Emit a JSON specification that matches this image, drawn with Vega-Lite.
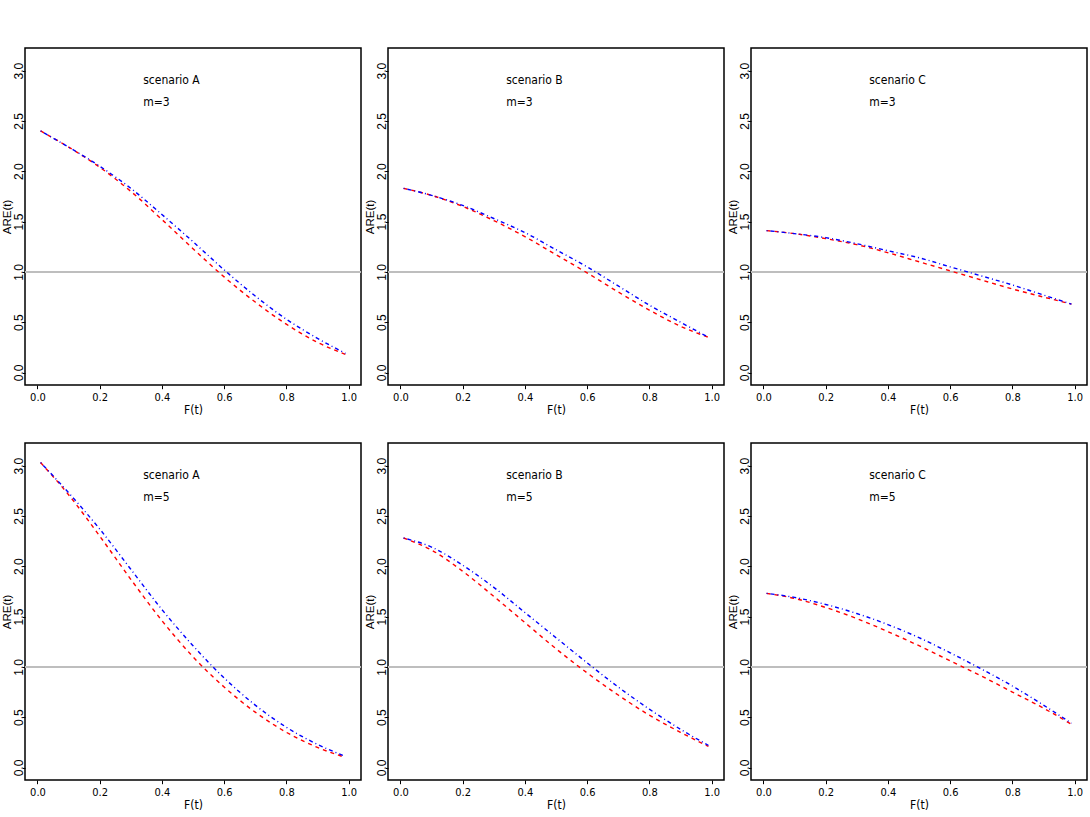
{
  "$schema": "https://vega.github.io/schema/vega-lite/v6.json",
  "padding": {"left": 0, "top": 47, "right": 3, "bottom": 3},
  "background": "white",
  "data": {"values": [
    {"s":"A","m":3,"c":"red","x":0.01,"y":2.40},{"s":"A","m":3,"c":"red","x":0.1,"y":2.24},{"s":"A","m":3,"c":"red","x":0.2,"y":2.04},{"s":"A","m":3,"c":"red","x":0.3,"y":1.80},{"s":"A","m":3,"c":"red","x":0.4,"y":1.52},{"s":"A","m":3,"c":"red","x":0.5,"y":1.23},{"s":"A","m":3,"c":"red","x":0.6,"y":0.95},{"s":"A","m":3,"c":"red","x":0.7,"y":0.70},{"s":"A","m":3,"c":"red","x":0.8,"y":0.48},{"s":"A","m":3,"c":"red","x":0.9,"y":0.30},{"s":"A","m":3,"c":"red","x":0.99,"y":0.18},
    {"s":"A","m":3,"c":"blue","x":0.01,"y":2.40},{"s":"A","m":3,"c":"blue","x":0.1,"y":2.24},{"s":"A","m":3,"c":"blue","x":0.2,"y":2.05},{"s":"A","m":3,"c":"blue","x":0.3,"y":1.83},{"s":"A","m":3,"c":"blue","x":0.4,"y":1.57},{"s":"A","m":3,"c":"blue","x":0.5,"y":1.30},{"s":"A","m":3,"c":"blue","x":0.6,"y":1.02},{"s":"A","m":3,"c":"blue","x":0.7,"y":0.76},{"s":"A","m":3,"c":"blue","x":0.8,"y":0.53},{"s":"A","m":3,"c":"blue","x":0.9,"y":0.34},{"s":"A","m":3,"c":"blue","x":0.99,"y":0.19},
    {"s":"B","m":3,"c":"red","x":0.01,"y":1.83},{"s":"B","m":3,"c":"red","x":0.1,"y":1.76},{"s":"B","m":3,"c":"red","x":0.2,"y":1.65},{"s":"B","m":3,"c":"red","x":0.3,"y":1.51},{"s":"B","m":3,"c":"red","x":0.4,"y":1.35},{"s":"B","m":3,"c":"red","x":0.5,"y":1.17},{"s":"B","m":3,"c":"red","x":0.6,"y":0.99},{"s":"B","m":3,"c":"red","x":0.7,"y":0.80},{"s":"B","m":3,"c":"red","x":0.8,"y":0.62},{"s":"B","m":3,"c":"red","x":0.9,"y":0.46},{"s":"B","m":3,"c":"red","x":0.99,"y":0.35},
    {"s":"B","m":3,"c":"blue","x":0.01,"y":1.83},{"s":"B","m":3,"c":"blue","x":0.1,"y":1.76},{"s":"B","m":3,"c":"blue","x":0.2,"y":1.66},{"s":"B","m":3,"c":"blue","x":0.3,"y":1.53},{"s":"B","m":3,"c":"blue","x":0.4,"y":1.39},{"s":"B","m":3,"c":"blue","x":0.5,"y":1.22},{"s":"B","m":3,"c":"blue","x":0.6,"y":1.05},{"s":"B","m":3,"c":"blue","x":0.7,"y":0.86},{"s":"B","m":3,"c":"blue","x":0.8,"y":0.67},{"s":"B","m":3,"c":"blue","x":0.9,"y":0.50},{"s":"B","m":3,"c":"blue","x":0.99,"y":0.35},
    {"s":"C","m":3,"c":"red","x":0.01,"y":1.41},{"s":"C","m":3,"c":"red","x":0.1,"y":1.38},{"s":"C","m":3,"c":"red","x":0.2,"y":1.33},{"s":"C","m":3,"c":"red","x":0.3,"y":1.27},{"s":"C","m":3,"c":"red","x":0.4,"y":1.19},{"s":"C","m":3,"c":"red","x":0.5,"y":1.10},{"s":"C","m":3,"c":"red","x":0.6,"y":1.01},{"s":"C","m":3,"c":"red","x":0.7,"y":0.92},{"s":"C","m":3,"c":"red","x":0.8,"y":0.83},{"s":"C","m":3,"c":"red","x":0.9,"y":0.75},{"s":"C","m":3,"c":"red","x":0.99,"y":0.68},
    {"s":"C","m":3,"c":"blue","x":0.01,"y":1.41},{"s":"C","m":3,"c":"blue","x":0.1,"y":1.38},{"s":"C","m":3,"c":"blue","x":0.2,"y":1.34},{"s":"C","m":3,"c":"blue","x":0.3,"y":1.28},{"s":"C","m":3,"c":"blue","x":0.4,"y":1.21},{"s":"C","m":3,"c":"blue","x":0.5,"y":1.14},{"s":"C","m":3,"c":"blue","x":0.6,"y":1.05},{"s":"C","m":3,"c":"blue","x":0.7,"y":0.96},{"s":"C","m":3,"c":"blue","x":0.8,"y":0.87},{"s":"C","m":3,"c":"blue","x":0.9,"y":0.77},{"s":"C","m":3,"c":"blue","x":0.99,"y":0.68},
    {"s":"A","m":5,"c":"red","x":0.01,"y":3.03},{"s":"A","m":5,"c":"red","x":0.1,"y":2.71},{"s":"A","m":5,"c":"red","x":0.2,"y":2.30},{"s":"A","m":5,"c":"red","x":0.3,"y":1.87},{"s":"A","m":5,"c":"red","x":0.4,"y":1.46},{"s":"A","m":5,"c":"red","x":0.5,"y":1.10},{"s":"A","m":5,"c":"red","x":0.6,"y":0.80},{"s":"A","m":5,"c":"red","x":0.7,"y":0.55},{"s":"A","m":5,"c":"red","x":0.8,"y":0.35},{"s":"A","m":5,"c":"red","x":0.9,"y":0.20},{"s":"A","m":5,"c":"red","x":0.99,"y":0.10},
    {"s":"A","m":5,"c":"blue","x":0.01,"y":3.03},{"s":"A","m":5,"c":"blue","x":0.1,"y":2.73},{"s":"A","m":5,"c":"blue","x":0.2,"y":2.37},{"s":"A","m":5,"c":"blue","x":0.3,"y":1.97},{"s":"A","m":5,"c":"blue","x":0.4,"y":1.57},{"s":"A","m":5,"c":"blue","x":0.5,"y":1.21},{"s":"A","m":5,"c":"blue","x":0.6,"y":0.89},{"s":"A","m":5,"c":"blue","x":0.7,"y":0.62},{"s":"A","m":5,"c":"blue","x":0.8,"y":0.40},{"s":"A","m":5,"c":"blue","x":0.9,"y":0.23},{"s":"A","m":5,"c":"blue","x":0.99,"y":0.11},
    {"s":"B","m":5,"c":"red","x":0.01,"y":2.28},{"s":"B","m":5,"c":"red","x":0.1,"y":2.16},{"s":"B","m":5,"c":"red","x":0.2,"y":1.95},{"s":"B","m":5,"c":"red","x":0.3,"y":1.70},{"s":"B","m":5,"c":"red","x":0.4,"y":1.44},{"s":"B","m":5,"c":"red","x":0.5,"y":1.18},{"s":"B","m":5,"c":"red","x":0.6,"y":0.94},{"s":"B","m":5,"c":"red","x":0.7,"y":0.72},{"s":"B","m":5,"c":"red","x":0.8,"y":0.52},{"s":"B","m":5,"c":"red","x":0.9,"y":0.35},{"s":"B","m":5,"c":"red","x":0.99,"y":0.21},
    {"s":"B","m":5,"c":"blue","x":0.01,"y":2.28},{"s":"B","m":5,"c":"blue","x":0.1,"y":2.19},{"s":"B","m":5,"c":"blue","x":0.2,"y":2.01},{"s":"B","m":5,"c":"blue","x":0.3,"y":1.79},{"s":"B","m":5,"c":"blue","x":0.4,"y":1.54},{"s":"B","m":5,"c":"blue","x":0.5,"y":1.29},{"s":"B","m":5,"c":"blue","x":0.6,"y":1.04},{"s":"B","m":5,"c":"blue","x":0.7,"y":0.80},{"s":"B","m":5,"c":"blue","x":0.8,"y":0.58},{"s":"B","m":5,"c":"blue","x":0.9,"y":0.38},{"s":"B","m":5,"c":"blue","x":0.99,"y":0.22},
    {"s":"C","m":5,"c":"red","x":0.01,"y":1.73},{"s":"C","m":5,"c":"red","x":0.1,"y":1.68},{"s":"C","m":5,"c":"red","x":0.2,"y":1.59},{"s":"C","m":5,"c":"red","x":0.3,"y":1.48},{"s":"C","m":5,"c":"red","x":0.4,"y":1.35},{"s":"C","m":5,"c":"red","x":0.5,"y":1.21},{"s":"C","m":5,"c":"red","x":0.6,"y":1.06},{"s":"C","m":5,"c":"red","x":0.7,"y":0.91},{"s":"C","m":5,"c":"red","x":0.8,"y":0.75},{"s":"C","m":5,"c":"red","x":0.9,"y":0.59},{"s":"C","m":5,"c":"red","x":0.99,"y":0.43},
    {"s":"C","m":5,"c":"blue","x":0.01,"y":1.73},{"s":"C","m":5,"c":"blue","x":0.1,"y":1.69},{"s":"C","m":5,"c":"blue","x":0.2,"y":1.62},{"s":"C","m":5,"c":"blue","x":0.3,"y":1.53},{"s":"C","m":5,"c":"blue","x":0.4,"y":1.42},{"s":"C","m":5,"c":"blue","x":0.5,"y":1.29},{"s":"C","m":5,"c":"blue","x":0.6,"y":1.14},{"s":"C","m":5,"c":"blue","x":0.7,"y":0.98},{"s":"C","m":5,"c":"blue","x":0.8,"y":0.81},{"s":"C","m":5,"c":"blue","x":0.9,"y":0.62},{"s":"C","m":5,"c":"blue","x":0.99,"y":0.44}
  ]},
  "facet": {
    "row": {"field": "m", "type": "ordinal", "header": {"labels": false, "title": null}},
    "column": {"field": "s", "type": "nominal", "header": {"labels": false, "title": null}}
  },
  "bounds": "flush",
  "spacing": {"row": 58, "column": 27},
  "resolve": {"axis": {"x": "independent", "y": "independent"}},
  "spec": {
    "width": 336,
    "height": 337,
    "layer": [
      {
        "mark": {"type": "rule", "color": "#BEBEBE", "strokeWidth": 1.5},
        "encoding": {"y": {"datum": 1, "type": "quantitative"}}
      },
      {
        "transform": [{"filter": "datum.c == 'red'"}],
        "mark": {"type": "line", "color": "#FF0000", "strokeWidth": 1.4, "strokeDash": [4, 4], "interpolate": "monotone"},
        "encoding": {
          "x": {"field": "x", "type": "quantitative", "scale": {"domain": [-0.04, 1.04], "nice": false, "zero": false},
                "axis": {"title": "F(t)", "values": [0, 0.2, 0.4, 0.6, 0.8, 1.0], "format": ".1f", "grid": false, "domain": false,
                         "tickColor": "black", "tickSize": 3.7, "labelPadding": 2.5, "labelColor": "black",
                         "labelFont": "DejaVu Sans Condensed, Liberation Sans, sans-serif", "labelFontSize": 11, "titleFont": "DejaVu Sans Condensed, Liberation Sans, sans-serif",
                         "titleFontSize": 12, "titleFontWeight": "normal", "titleColor": "black", "titlePadding": 2}},
          "y": {"field": "y", "type": "quantitative", "scale": {"domain": [-0.124, 3.224], "nice": false, "zero": false},
                "axis": {"title": "ARE(t)", "values": [0, 0.5, 1, 1.5, 2, 2.5, 3], "format": ".1f", "grid": false, "domain": false,
                         "tickColor": "black", "tickSize": 2.5, "labelPadding": 0, "labelAngle": 270, "labelAlign": "center",
                         "labelBaseline": "alphabetic", "labelColor": "black", "labelFont": "Liberation Sans", "labelFontSize": 12,
                         "titleFont": "Liberation Sans", "titleFontSize": 11.5, "titleFontWeight": "normal", "titleColor": "black", "titlePadding": 0.3}}
        }
      },
      {
        "transform": [{"filter": "datum.c == 'blue'"}],
        "mark": {"type": "line", "color": "#0000FF", "strokeWidth": 1.4, "strokeDash": [1, 3, 4, 3], "interpolate": "monotone"},
        "encoding": {
          "x": {"field": "x", "type": "quantitative"},
          "y": {"field": "y", "type": "quantitative"}
        }
      },
      {
        "transform": [{"filter": "datum.c == 'red' && datum.x == 0.01"}, {"calculate": "'scenario ' + datum.s", "as": "lab"}],
        "mark": {"type": "text", "align": "left", "baseline": "middle", "font": "DejaVu Sans Condensed, Liberation Sans, sans-serif", "fontSize": 12, "color": "black"},
        "encoding": {
          "x": {"datum": 0.34, "type": "quantitative"},
          "y": {"datum": 2.91, "type": "quantitative"},
          "text": {"field": "lab"}
        }
      },
      {
        "transform": [{"filter": "datum.c == 'red' && datum.x == 0.01"}, {"calculate": "'m=' + datum.m", "as": "lab"}],
        "mark": {"type": "text", "align": "left", "baseline": "middle", "font": "DejaVu Sans Condensed, Liberation Sans, sans-serif", "fontSize": 12, "color": "black"},
        "encoding": {
          "x": {"datum": 0.34, "type": "quantitative"},
          "y": {"datum": 2.685, "type": "quantitative"},
          "text": {"field": "lab"}
        }
      }
    ]
  },
  "config": {
    "view": {"stroke": "black", "strokeWidth": 1.5},
    "axis": {"tickWidth": 1}
  }
}
